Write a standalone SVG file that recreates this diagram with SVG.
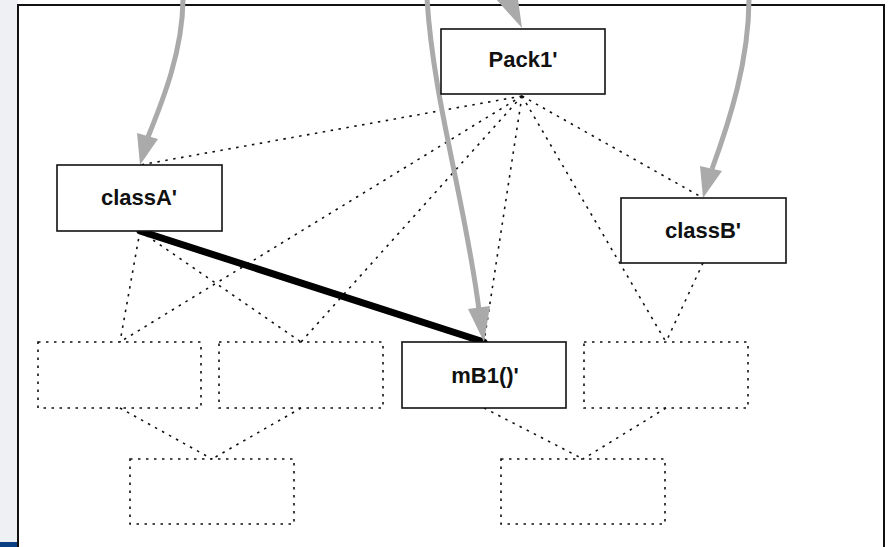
<svg xmlns="http://www.w3.org/2000/svg" width="890" height="547" viewBox="0 0 890 547">
<style>
.node{fill:#fff;stroke:#111;stroke-width:1.6}
.ghost{fill:none;stroke:#111;stroke-width:1.6;stroke-dasharray:2.5 5.5}
.dot{fill:none;stroke:#111;stroke-width:1.6;stroke-dasharray:2.5 5.5}
.lbl{font-family:"Liberation Sans",Arial,Helvetica,sans-serif;font-weight:bold;font-size:22px;fill:#111;text-anchor:middle}
.garrow{fill:none;stroke:#aaaaaa;stroke-width:5}
.ghead{fill:#aaaaaa}
</style>
<rect x="0" y="0" width="890" height="547" fill="#ffffff"/>
<rect x="0" y="0" width="18" height="547" fill="#eff0f3"/>
<rect x="0" y="542" width="18" height="5" fill="#0b3f84"/>
<rect x="18" y="5" width="866" height="560" fill="#ffffff" stroke="#111" stroke-width="2"/>

<g id="connectors">
  <g id="dotted">
    <line class="dot" x1="522" y1="96" x2="140" y2="165"/>
    <line class="dot" x1="522" y1="96" x2="120" y2="342"/>
    <line class="dot" x1="522" y1="96" x2="301" y2="342"/>
    <line class="dot" x1="522" y1="96" x2="484" y2="342"/>
    <line class="dot" x1="522" y1="96" x2="666" y2="342"/>
    <line class="dot" x1="522" y1="96" x2="703" y2="198"/>
    <line class="dot" x1="140" y1="231" x2="120" y2="342"/>
    <line class="dot" x1="140" y1="231" x2="301" y2="342"/>
    <line class="dot" x1="703" y1="263" x2="666" y2="342"/>
    <line class="dot" x1="120" y1="408" x2="212" y2="459"/>
    <line class="dot" x1="301" y1="408" x2="212" y2="459"/>
    <line class="dot" x1="484" y1="408" x2="583" y2="459"/>
    <line class="dot" x1="666" y1="408" x2="583" y2="459"/>
  </g>
  <line id="thick" x1="140" y1="231" x2="484" y2="342" stroke="#000" stroke-width="7" stroke-linecap="round"/>
  <g id="gray-arrows">
    <path class="garrow" d="M183,-2 C183,50 163,100 148,137"/>
    <polygon class="ghead" points="137,133 158,139 140,165"/>
    <path class="garrow" d="M427,-2 C433,100 465,200 479,310"/>
    <polygon class="ghead" points="468,309 490,306 484,342"/>
    <polygon class="ghead" points="495,-2 517,-8 522,28"/>
    <path class="garrow" d="M749,-2 C749,60 730,120 712,169"/>
    <polygon class="ghead" points="700,166 722,171 703,198"/>
  </g>
</g>

<g id="pack1">
  <rect class="node" x="441" y="29" width="164" height="65"/>
  <text class="lbl" x="523" y="67">Pack1'</text>
</g>
<g id="classA">
  <rect class="node" x="57" y="165" width="165" height="66"/>
  <text class="lbl" x="139" y="205">classA'</text>
</g>
<g id="classB">
  <rect class="node" x="621" y="198" width="165" height="65"/>
  <text class="lbl" x="703" y="238">classB'</text>
</g>
<g id="mB1">
  <rect class="node" x="402" y="342" width="164" height="66"/>
  <text class="lbl" x="485" y="383">mB1()'</text>
</g>
<g id="ghost1"><rect class="ghost" x="38" y="342" width="163" height="66"/></g>
<g id="ghost2"><rect class="ghost" x="219" y="342" width="164" height="66"/></g>
<g id="ghost3"><rect class="ghost" x="584" y="342" width="164" height="66"/></g>
<g id="ghost4"><rect class="ghost" x="130" y="459" width="164" height="65"/></g>
<g id="ghost5"><rect class="ghost" x="501" y="459" width="164" height="65"/></g>
</svg>
